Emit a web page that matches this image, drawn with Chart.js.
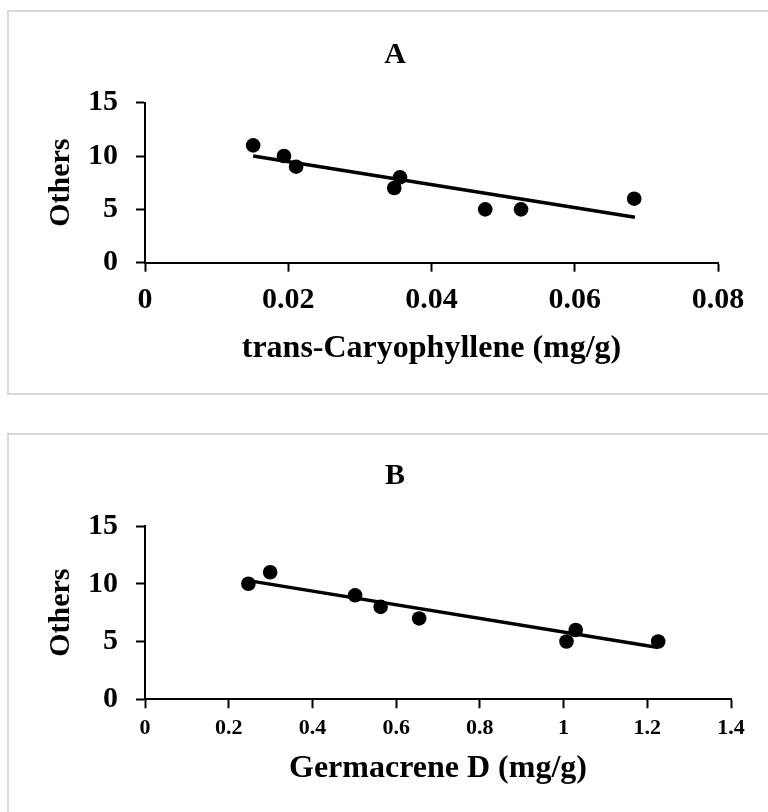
<!DOCTYPE html>
<html>
<head>
<meta charset="utf-8">
<script src="https://cdn.jsdelivr.net/npm/chart.js@4.4.1/dist/chart.umd.min.js"></script>
<style>
  html, body { margin: 0; padding: 0; background: #ffffff; }
  body { width: 768px; height: 812px; position: relative; overflow: hidden; }
  .box { position: absolute; box-sizing: border-box; border: 2px solid #d9d9d9; background: #ffffff; }
  canvas { position: absolute; left: 0; }
</style>
</head>
<body>
<div class="box" style="left:7px; top:10px; width:800px; height:385px;"></div>
<div class="box" style="left:7px; top:433px; width:800px; height:420px;"></div>
<canvas id="chartA" width="768" height="416" style="top:0px; width:768px; height:416px;"></canvas>
<canvas id="chartB" width="768" height="396" style="top:416px; width:768px; height:396px;"></canvas>
<script>
// ---- Data ----
const titleA = 'A';
const xLabelA = 'trans-Caryophyllene (mg/g)';
const xA = [0.0151, 0.0194, 0.0211, 0.0348, 0.0356, 0.0475, 0.0525, 0.0683];
const yA = [11, 10, 9, 7, 8, 5, 5, 6];
const trendXA = [0.0151, 0.0684];
const trendYA = [10.0, 4.26];
const xTickValuesA = [0, 0.02, 0.04, 0.06, 0.08];
const xTickLabelsA = ['0', '0.02', '0.04', '0.06', '0.08'];

const titleB = 'B';
const xLabelB = 'Germacrene D (mg/g)';
const xB = [0.247, 0.299, 0.502, 0.563, 0.655, 1.007, 1.029, 1.226];
const yB = [10, 11, 9, 8, 7, 5, 6, 5];
const trendXB = [0.247, 1.226];
const trendYB = [10.27, 4.48];
const xTickValuesB = [0, 0.2, 0.4, 0.6, 0.8, 1.0, 1.2, 1.4];
const xTickLabelsB = ['0', '0.2', '0.4', '0.6', '0.8', '1', '1.2', '1.4'];

const yLabel = 'Others';
const yTickValues = [0, 5, 10, 15];
const yTickLabels = ['0', '5', '10', '15'];

const FONT = '"Liberation Serif", "Times New Roman", serif';

function pts(xs, ys) { return xs.map((x, i) => ({ x: x, y: ys[i] })); }

function makeChart(id, o) {
  return new Chart(document.getElementById(id), {
    type: 'scatter',
    data: {
      datasets: [
        {
          data: pts(o.xs, o.ys),
          backgroundColor: '#000000',
          borderWidth: 0,
          pointRadius: 7.3,
          pointHoverRadius: 7.3
        },
        {
          type: 'line',
          data: pts(o.tx, o.ty),
          borderColor: '#000000',
          borderWidth: 3.5,
          pointRadius: 0,
          fill: false,
          tension: 0
        }
      ]
    },
    options: {
      responsive: false,
      animation: false,
      events: [],
      layout: { padding: { left: o.padLeft, right: o.padRight, top: 0, bottom: 0 } },
      plugins: {
        legend: { display: false },
        tooltip: { enabled: false },
        title: {
          display: true,
          text: o.title,
          color: '#000000',
          font: { family: FONT, size: 30, weight: 'bold' },
          padding: { top: o.titleTop, bottom: o.titleBottom }
        }
      },
      scales: {
        x: {
          type: 'linear',
          min: o.xTickValues[0],
          max: o.xTickValues[o.xTickValues.length - 1],
          afterBuildTicks: s => { s.ticks = o.xTickValues.map(v => ({ value: v })); },
          afterFit: s => { s.height = o.xHeight; },
          border: { display: true, color: '#000000', width: 2 },
          grid: { display: true, drawOnChartArea: false, drawTicks: true, tickLength: 9, tickColor: '#000000', tickWidth: 2, color: '#000000' },
          ticks: {
            color: '#000000',
            font: { family: FONT, size: o.xTickSize, weight: 'bold' },
            padding: o.xTickPad,
            maxRotation: 0,
            autoSkip: false,
            callback: (v, i) => o.xTickLabels[i]
          },
          title: {
            display: true,
            text: o.xLabel,
            color: '#000000',
            font: { family: FONT, size: 32, weight: 'bold' },
            padding: { top: 0, bottom: o.xTitlePad }
          }
        },
        y: {
          type: 'linear',
          min: yTickValues[0],
          max: yTickValues[yTickValues.length - 1],
          afterBuildTicks: s => { s.ticks = yTickValues.map(v => ({ value: v })); },
          afterFit: s => { s.width = 145 - o.padLeft; },
          border: { display: true, color: '#000000', width: 2 },
          grid: { display: true, drawOnChartArea: false, drawTicks: true, tickLength: 9, tickColor: '#000000', tickWidth: 2, color: '#000000' },
          ticks: {
            color: '#000000',
            font: { family: FONT, size: 30, weight: 'bold' },
            padding: 18,
            callback: (v, i) => yTickLabels[i]
          },
          title: {
            display: true,
            text: yLabel,
            color: '#000000',
            font: { family: FONT, size: 30, weight: 'bold' },
            padding: { top: 43 - o.padLeft, bottom: 0 }
          }
        }
      }
    }
  });
}

makeChart('chartA', {
  xs: xA, ys: yA, tx: trendXA, ty: trendYA,
  title: titleA, xLabel: xLabelA,
  xTickValues: xTickValuesA, xTickLabels: xTickLabelsA,
  padLeft: 72, padRight: 50, titleTop: 37, titleBottom: 29.7,
  xHeight: 153.3, xTickSize: 30, xTickPad: 10.3, xTitlePad: 47.8
});

makeChart('chartB', {
  xs: xB, ys: yB, tx: trendXB, ty: trendYB,
  title: titleB, xLabel: xLabelB,
  xTickValues: xTickValuesB, xTickLabels: xTickLabelsB,
  padLeft: 59, padRight: 37, titleTop: 42, titleBottom: 32,
  xHeight: 112.7, xTickSize: 22, xTickPad: 6.5, xTitlePad: 23.8
});
</script>
</body>
</html>
